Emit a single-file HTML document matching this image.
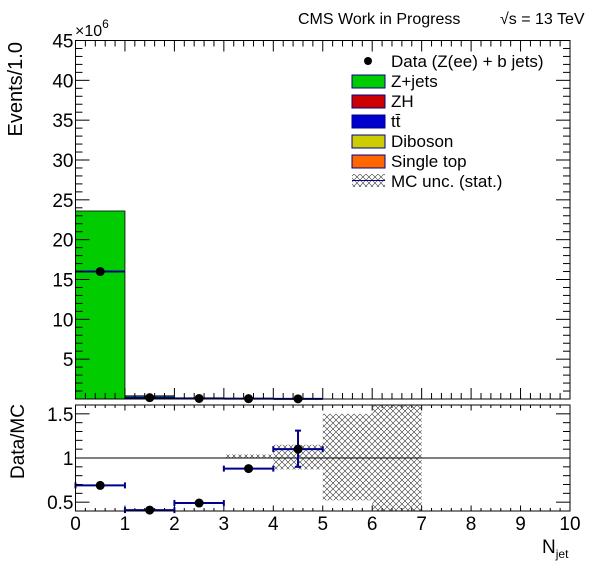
<!DOCTYPE html>
<html><head><meta charset="utf-8"><style>
body{margin:0;background:#fff}
svg{display:block;font-family:"Liberation Sans",Arial,sans-serif}
</style></head><body>
<svg id="c" width="596" height="572" xmlns="http://www.w3.org/2000/svg">
<defs>
<pattern id="hatch" width="6" height="6" patternUnits="userSpaceOnUse">
<path d="M0,0L6,6M6,0L0,6" stroke="#333" stroke-width="0.6"/>
</pattern>
</defs>
</svg>
<script>
const binEdges=[0,1,2,3,4,5,6,7,8,9,10];
const zjets=[23.6,0.4,0.15,0.05,0.02,0.005,0.002,0,0,0];
const dataVals=[16.0,0.17,0.07,0.04,0.02];
const ratioVals=[0.69,0.41,0.49,0.88,1.10];
const ratioErrLo=[0,0,0,0,0.20];
const ratioErrHi=[0,0,0,0,0.21];
const uncLo=[1,1,1,1.0,0.87,0.52,0.40];
const uncHi=[1,1,1,1.04,1.15,1.50,1.61];
const yTicks=[5,10,15,20,25,30,35,40,45];
const rTicks=[0.5,1,1.5];
const xTicks=[0,1,2,3,4,5,6,7,8,9,10];

const NS="http://www.w3.org/2000/svg";
const svg=document.getElementById('c');
const L=75.5,R=570,MT=40.5,MB=399,RT=405,RB=511;
const X=v=>L+(R-L)*v/10;
const Y=v=>MB-(MB-MT)*v/45;
const RY=v=>RB-(RB-RT)*(v-0.4)/1.2;
function mk(tag,attrs,parent){const e=document.createElementNS(NS,tag);for(const k in attrs)e.setAttribute(k,attrs[k]);(parent||svg).appendChild(e);return e;}
function txt(s,attrs){const t=mk('text',attrs);t.textContent=s;return t;}

zjets.forEach((v,i)=>{
  if(v<=0)return;
  const r=mk('rect',{x:X(binEdges[i]),y:Y(v),width:X(binEdges[i+1])-X(binEdges[i]),height:Y(0)-Y(v),fill:'#00cc00',stroke:'#000','stroke-width':0.8});
  
  
});
dataVals.forEach((v,i)=>{
  const cx=X(i+0.5),cy=Y(v);
  const l=mk('line',{x1:X(i),x2:X(i+1),y1:cy,y2:cy,stroke:'#00008b','stroke-width':2});
  
  
  const c=mk('circle',{cx:cx,cy:cy,r:4.5,fill:'#000'});
  
  
});
const f1=mk('rect',{x:L,y:MT,width:R-L,height:MB-MT,fill:'none',stroke:'#000','stroke-width':1});


for(let v=1;v<=45;v++){
  const len=(v%5===0)?14:7;
  mk('line',{x1:L,x2:L+len,y1:Y(v),y2:Y(v),stroke:'#000','stroke-width':1});
  mk('line',{x1:R,x2:R-len,y1:Y(v),y2:Y(v),stroke:'#000','stroke-width':1});
}
yTicks.forEach(v=>{
  const t=txt(String(v),{x:L-2,y:Y(v)+7,'text-anchor':'end','font-size':19});
  
  
});
for(let i=0;i<=50;i++){
  const v=i/5,len=(i%5===0)?11:6;
  mk('line',{x1:X(v),x2:X(v),y1:MB,y2:MB-len,stroke:'#000'});
  mk('line',{x1:X(v),x2:X(v),y1:MT,y2:MT+len,stroke:'#000'});
  mk('line',{x1:X(v),x2:X(v),y1:RB,y2:RB-len*0.5,stroke:'#000'});
  mk('line',{x1:X(v),x2:X(v),y1:RT,y2:RT+len*0.5,stroke:'#000'});
}
uncLo.forEach((lo,i)=>{
  const hi=uncHi[i];
  if(hi-lo<0.001)return;
  const r=mk('rect',{x:X(i),y:RY(Math.min(hi,1.6)),width:X(i+1)-X(i),height:RY(Math.max(lo,0.4))-RY(Math.min(hi,1.6)),fill:'url(#hatch)'});
  
  
});
mk('line',{x1:L,x2:R,y1:RY(1),y2:RY(1),stroke:'#000','stroke-width':1});
ratioVals.forEach((v,i)=>{
  const cy=RY(v),cx=X(i+0.5);
  const g=mk('g',{});
  
  
  mk('line',{x1:X(i),x2:X(i+1),y1:cy,y2:cy,stroke:'#00008b','stroke-width':2},g);
  mk('line',{x1:X(i),x2:X(i),y1:cy-3,y2:cy+3,stroke:'#00008b','stroke-width':2},g);
  mk('line',{x1:X(i+1),x2:X(i+1),y1:cy-3,y2:cy+3,stroke:'#00008b','stroke-width':2},g);
  if(ratioErrHi[i]>0){
    mk('line',{x1:cx,x2:cx,y1:RY(v+ratioErrHi[i]),y2:RY(v-ratioErrLo[i]),stroke:'#00008b','stroke-width':2},g);
    mk('line',{x1:cx-3,x2:cx+3,y1:RY(v+ratioErrHi[i]),y2:RY(v+ratioErrHi[i]),stroke:'#00008b','stroke-width':2},g);
    mk('line',{x1:cx-3,x2:cx+3,y1:RY(v-ratioErrLo[i]),y2:RY(v-ratioErrLo[i]),stroke:'#00008b','stroke-width':2},g);
  }
  mk('circle',{cx:cx,cy:cy,r:4.5,fill:'#000'},g);
});
const f2=mk('rect',{x:L,y:RT,width:R-L,height:RB-RT,fill:'none',stroke:'#000','stroke-width':1});


for(let v=0.5;v<=1.55;v+=0.1){
  const len=(Math.abs(v*2-Math.round(v*2))<0.01)?14:7;
  mk('line',{x1:L,x2:L+len,y1:RY(v),y2:RY(v),stroke:'#000'});
  mk('line',{x1:R,x2:R-len,y1:RY(v),y2:RY(v),stroke:'#000'});
}
rTicks.forEach(v=>{
  const t=txt(String(v),{x:L-2,y:RY(v)+7,'text-anchor':'end','font-size':19});
  
  
});
xTicks.forEach(v=>{
  const t=txt(String(v),{x:X(v),y:530,'text-anchor':'middle','font-size':19});
  
  
});
</script>
<script>
(function(){
const NS="http://www.w3.org/2000/svg",svg=document.getElementById('c');
function add(html){const g=document.createElementNS(NS,'g');g.innerHTML=html;svg.appendChild(g);}
add(`
<text x="75" y="36" font-size="16">×10<tspan dy="-8" font-size="12">6</tspan></text>
<text x="22" y="42" font-size="20" text-anchor="end" transform="rotate(-90 22 42)">Events/1.0</text>
<text x="24" y="479" font-size="19" transform="rotate(-90 24 479)">Data/MC</text>
<text x="542" y="553" font-size="19">N<tspan font-size="12" dy="5">jet</tspan></text>
<text x="298" y="24" font-size="16">CMS Work in Progress</text>
<text x="500" y="24" font-size="16">√s = 13 TeV</text>
<g font-size="17">
<circle cx="368" cy="61" r="4" fill="#000"/><text x="391" y="67">Data (Z(ee) + b jets)</text>
<rect x="352" y="75" width="33" height="13" fill="#00cc00" stroke="#00008b"/><text x="391" y="87">Z+jets</text>
<rect x="352" y="95" width="33" height="13" fill="#cc0000" stroke="#00008b"/><text x="391" y="107">ZH</text>
<rect x="352" y="115" width="33" height="13" fill="#0000cc" stroke="#00008b"/><text x="391" y="127">tt̄</text>
<rect x="352" y="135" width="33" height="13" fill="#cccc00" stroke="#00008b"/><text x="391" y="147">Diboson</text>
<rect x="352" y="155" width="33" height="13" fill="#ff6600" stroke="#00008b"/><text x="391" y="167">Single top</text>
<rect x="352" y="174" width="33" height="13" fill="url(#hatch)"/><line x1="352" x2="385" y1="180.5" y2="180.5" stroke="#00008b"/><text x="391" y="187">MC unc. (stat.)</text>
</g>`);
})();
</script>
</body></html>
